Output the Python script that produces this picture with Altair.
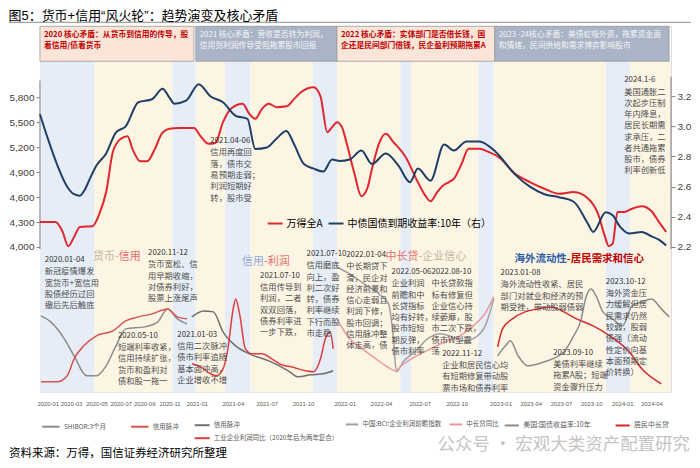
import altair as alt
import pandas as pd

FONT = "Noto Sans CJK SC"
TITLE_FONT = "Liberation Sans, Noto Sans CJK SC"
W, H = 632, 366

TITLE = "图5：货币+信用“风火轮”：趋势演变及核心矛盾"
SOURCE = "资料来源：万得，国信证券经济研究所整理"
WATERMARK = "公众号 · 宏观大类资产配置研究"

# x = months since 2020-01
X_DOMAIN = [-0.66, 52.63]
FRAME_DOMAIN = [-7, 359]          # relative level used by the lower panel / layout
LEFT_DOMAIN = [2260, 6652]        # 万得全A
RIGHT_DOMAIN = [1.2397, 3.6636]   # 10Y yield

x_tick_pos = [0, 1.97, 4.11, 6.17, 8.14, 10.28, 12.58, 15.63, 18.5, 21.55,
              25.08, 28.13, 31.41, 34.54, 38.24, 40.79, 43.34, 45.89, 48.52, 50.99]
x_tick_lab = ["2020-01", "2020-03", "2020-05", "2020-07", "2020-09", "2020-11",
              "2021-01", "2021-04", "2021-07", "2021-10", "2022-01", "2022-04",
              "2022-07", "2022-10", "2023-01", "2023-04", "2023-07", "2023-10",
              "2024-01", "2024-04"]
left_ticks = [4000, 4300, 4600, 4900, 5200, 5500, 5800]
right_ticks = [2.2, 2.4, 2.6, 2.8, 3.0, 3.2]

# ---------------- top panel series ----------------
a_month = [-0.66, 0.66, 1.23, 1.73, 2.22, 2.71, 3.78, 4.36, 4.93, 5.51, 6.17, 6.74, 7.15, 7.81,
           8.39, 9.05, 9.62, 10.28, 11.10, 12.34, 12.91, 13.57, 14.14, 14.80, 15.46, 16.45,
           17.02, 17.52, 18.09, 18.67, 19.33, 20.15, 20.81, 21.38, 22.45, 23.03, 23.60, 24.01,
           24.42, 24.84, 25.25, 25.90, 26.48, 26.97, 27.38, 27.96, 28.54, 29.19, 30.18, 31.25,
           31.91, 32.32, 32.89, 33.31, 33.88, 34.29, 34.95, 35.53, 36.43, 37.25, 38.08, 39.47,
           40.71, 41.94, 43.17, 44.41, 45.64, 46.46, 47.04, 47.37, 47.70, 48.11, 48.68, 49.34,
           50.16, 50.99, 51.56, 52.22]
a_value = [4300, 4300, 4190, 4010, 4120, 4240, 4250, 4400, 4660, 5150, 5300, 5330, 5180, 5030,
           5030, 5180, 5360, 5420, 5430, 5430, 5330, 5240, 5250, 5500, 5660, 5720, 5600, 5540,
           5660, 5720, 5680, 5690, 5780, 5860, 5920, 5810, 5380, 5440, 5500, 5440, 5240, 4880,
           4610, 4700, 4940, 5240, 5360, 5260, 5090, 4780, 4610, 4550, 4660, 4730, 4780, 4820,
           5000, 5180, 5180, 5140, 5080, 4880, 4780, 4700, 4640, 4660, 4580, 4400, 4130, 4010,
           4040, 4420, 4420, 4460, 4490, 4430, 4310, 4180]

y10_month = [-0.66, 0, 0.82, 1.64, 2.22, 2.71, 3.13, 3.54, 4.11, 4.93, 5.76, 6.58, 7.65, 8.80,
             9.70, 10.28, 10.69, 11.68, 12.75, 13.73, 14.80, 15.87, 16.86, 17.52, 18.50, 19.33,
             20.15, 20.81, 21.63, 22.45, 23.27, 24.01, 24.67, 25.49, 26.48, 27.38, 28.54, 29.61,
             30.59, 31.25, 32.32, 33.47, 34.29, 35.36, 36.43, 37.83, 39.47, 40.71, 41.94, 43.17,
             44.41, 45.64, 46.05, 47.12, 47.70, 48.27, 49.10, 50.16, 50.99, 51.56, 52.22]
y10_value = [3.08, 2.92, 2.74, 2.60, 2.55, 2.54, 2.58, 2.65, 2.74, 2.82, 2.96, 3.00, 3.16, 3.18,
             3.25, 3.19, 3.15, 3.17, 3.28, 3.20, 3.16, 3.07, 3.05, 2.85, 2.86, 2.92, 2.97, 2.88,
             2.75, 2.72, 2.70, 2.78, 2.77, 2.78, 2.84, 2.75, 2.82, 2.74, 2.63, 2.72, 2.64, 2.88,
             2.84, 2.90, 2.90, 2.83, 2.68, 2.60, 2.55, 2.53, 2.50, 2.35, 2.30, 2.43, 2.41, 2.34,
             2.29, 2.30, 2.27, 2.25, 2.21]

# ---------------- lower panel series (relative levels) ----------------
s1_grey_m = [-0.58, 0.25, 1.40, 2.22, 3.29, 4.11, 4.93, 5.76, 6.58, 8.22, 9.29, 10.12, 10.94, 11.76]
s1_grey_v = [69, 63, 46, 29, 9, 9, 19, 39, 56, 58, 63, 76, 66, 61]
s1_red_m = [-0.58, 0.82, 1.64, 2.22, 3.04, 4.11, 5.51, 6.58, 7.65, 8.80, 10.12, 10.94, 11.76]
s1_red_v = [3, 3, 9, 26, 39, 49, 54, 64, 68, 71, 76, 68, 66]

s2_grey_m = [12.17, 13.16, 13.98, 14.80, 15.87, 17.02, 18.67, 20.31, 21.13, 22.20, 23.27, 24.10]
s2_grey_v = [68, 74, 73, 53, 39, 31, 24, 14, 8, 10, 11, 14]
s2_red_m = [12.17, 12.91, 13.73, 14.23, 14.80, 15.21, 15.63, 15.87, 16.20, 16.69, 17.27, 18.09,
            18.91, 19.74, 20.56, 21.79, 22.45, 23.03, 23.44, 23.85, 24.10]
s2_red_v = [21, 18, 11, 9, 16, 36, 74, 86, 71, 36, 31, 31, 26, 20, 18, 14, 13, 26, 46, 53, 36]

s3_grey_m = [24.42, 25.49, 26.73, 27.96, 28.78, 29.19, 29.44, 30.02, 31.00, 32.07, 33.14, 34.13,
             35.12, 36.18, 37.01, 37.66]
s3_grey_v = [118, 111, 101, 91, 81, 46, 13, 23, 33, 46, 51, 48, 44, 48, 61, 86]
s3_red_m = [24.42, 25.49, 26.56, 27.71, 28.54, 29.36, 29.85, 31.00, 32.32, 33.72, 34.79, 35.94,
            37.01, 37.66]
s3_red_v = [66, 46, 36, 26, 19, 14, 19, 28, 36, 44, 49, 59, 73, 88]

s4_grey_m = [37.99, 38.65, 39.06, 39.72, 40.54, 41.94, 43.59, 44.41, 44.98, 45.48, 45.89, 46.30,
             46.88, 47.70, 48.52, 49.34, 50.16, 50.99, 51.81, 52.47]
s4_grey_v = [29, 39, 44, 29, 19, 23, 33, 49, 63, 89, 96, 89, 73, 66, 59, 79, 83, 86, 76, 68]
s4_red_m = [37.99, 38.40, 39.23, 40.30, 41.37, 42.52, 43.59, 44.65, 46.05, 47.45, 49.10, 50.16, 51.81]
s4_red_v = [38, 56, 66, 73, 76, 78, 73, 66, 59, 49, 33, 16, 1]

# ---------------- background periods ----------------
band_start = [-0.66, 3.95, 10.53, 12.5, 14.97, 17.11, 22.37, 24.42, 29.77, 30.67, 36.35, 37.66, 47.12, 49.18]
band_end = [3.95, 10.53, 12.5, 14.97, 17.11, 22.37, 24.42, 29.77, 30.67, 36.35, 37.66, 47.12, 49.18, 52.63]
band_kind = ["blue", "yellow"] * 7

# ---------------- header boxes ----------------
hdr_start = [-0.66, 12.5, 24.42, 37.75]
hdr_end = [12.34, 24.42, 37.75, 52.47]
hdr_kind = ["red", "grey", "red", "grey"]
hdr_text = [
    "2020 核心矛盾：从货币到信用的传导，股\n着信用/债着货币",
    "2021 核心矛盾：营收是否转为利润，\n信用到利润传导受阻拖累股市回报",
    "2022 核心矛盾：实体部门是否借长钱，国\n企还是民间部门借钱，民企盈利预期拖累A",
    "2023 -24核心矛盾：美债虹吸外资，拖累资金面\n和情绪，民间供给和需求博弈影响股市",
]

# ---------------- annotations ----------------
ann_month = [-0.25, 8.47, 5.92, 10.94, 13.73, 17.93, 21.85, 25.2, 29.03, 32.40, 33.31, 38.24, 42.68, 47.12, 48.68]
ann_top = [129, 136, 53, 54, 248, 113, 135, 134, 117, 117, 35, 116, 36, 107, 309]
ann_date = ["2020.01-04", "2020.11-12", "2020.05-10", "2021.01-03", "2021.04-06", "2021.07-10",
            "2021.07-10", "2022.01-04", "2022.05-06", "2022.08-10", "2022.11-12", "2023.01-08",
            "2023.09-10", "2023.10-12", "2024.1-6"]
ann_body = [
    "新冠疫情爆发\n宽货币+宽信用\n股债经历过回\n撤后先后触底",
    "货币宽松、信\n用早期收缩，\n对债券利好，\n股票上涨尾声",
    "短端利率收紧，\n信用持续扩张，\n货币和盈利对\n债和股一拖一",
    "信用二次脉冲\n债市利率追随\n基本面冲高，\n企业增收不增",
    "信用再度回\n落，债市交\n易预期走弱；\n利润短期好\n转，股市受",
    "信用传导到\n利润，二者\n双双回落，\n债券利率进\n一步下跌，",
    "信用磨底\n向上，盈\n利二次好\n转，债券\n利率继续\n下行而股\n市走稳",
    "中长期贷下\n滑，民企对\n经济前景和\n信心走弱且\n利润下修，\n股市回调；\n信用脉冲整\n体走高，债",
    "企业利润\n前瞻和中\n长贷指标\n均有好转，\n股市短短\n期反弹，\n债市利率",
    "中长贷款指\n标有修复但\n企业信心持\n续萎靡，股\n市二次下跌，\n债市W型震\n荡",
    "企业和居民信心均\n有短期修复带动股\n票市场和债券利率",
    "海外流动性收紧、居民\n部门对就业和经济的预\n期受挫，带动股弱债弱",
    "美债利率继续\n拖累A股；短端\n资金骤升压力",
    "海外资金压\n力缓解但居\n民需求仍然\n较弱，股弱\n债强（流动\n性定价向基\n本面预期定\n价转换）",
    "美国通胀二\n次起步压制\n年内降息，\n居民长期需\n求承压，二\n者共通拖累\n股市，债券\n利率创新低",
]

# phase titles: two coloured parts meeting at a joint
ph_joint = [6.0, 18.26, 31.3, 43.83]
ph_level = [128, 123, 128, 126]
ph_left = ["货币-", "信用", "中长贷", "海外流动性"]
ph_right = ["信用", "-利润", "-企业信心", "-居民需求和信心"]
ph_lrole = ["beige", "lightblue", "pink", "blue"]
ph_rrole = ["pink", "pink", "beige", "darkred"]
ph_bold = [0, 0, 0, 1]

# ================= chart construction =================
xscale = alt.Scale(domain=X_DOMAIN, nice=False, zero=False)
frame = alt.Scale(domain=FRAME_DOMAIN, nice=False, zero=False)
left_scale = alt.Scale(domain=LEFT_DOMAIN, nice=False, zero=False)
right_scale = alt.Scale(domain=RIGHT_DOMAIN, nice=False, zero=False)

lab_expr = ("[" + ",".join(f"'{s}'" for s in x_tick_lab) + "][indexof(["
            + ",".join(str(v) for v in x_tick_pos) + "], datum.value)]")
xaxis = alt.Axis(values=x_tick_pos, labelExpr=lab_expr, title=None, domain=False, ticks=False,
                 grid=False, labelFontSize=5.9, labelColor="#595959", labelPadding=9,
                 labelOverlap=False, labelFont="Liberation Sans")


def X(f):
    return alt.X(f, type="quantitative", scale=xscale, axis=xaxis)


def FY(f):
    return alt.Y(f, type="quantitative", scale=frame, axis=None)


def FYD(v):
    return alt.YDatum(v, type="quantitative", scale=frame, axis=None)


role_scale = alt.Scale(domain=["beige", "lightblue", "pink", "blue", "darkred"],
                       range=["#c4b3a0", "#8eaadb", "#e46c6c", "#2e5fa8", "#c00000"])


def leg(x, y, direction="horizontal", size=225, fs=6.5, color="#595959", colpad=18):
    return alt.Legend(orient="none", legendX=x, legendY=y, direction=direction, title=None,
                      symbolType="stroke", symbolStrokeWidth=2, symbolSize=size,
                      labelFontSize=fs, labelColor=color, labelFont=FONT,
                      columnPadding=colpad, rowPadding=0, labelLimit=600, labelOffset=3)


# backgrounds
bands = pd.DataFrame({"s": band_start, "e": band_end, "k": band_kind})
band_layer = alt.Chart(bands).mark_rect().encode(
    x=X("s"), x2="e", y=FYD(-7), y2=alt.Y2Datum(324),
    color=alt.Color("k:N", scale=alt.Scale(domain=["blue", "yellow"], range=["#e6edf7", "#fdf5e4"]), legend=None),
)

hdr = pd.DataFrame({"s": hdr_start, "e": hdr_end, "k": hdr_kind, "t": hdr_text})
hdr_rect = alt.Chart(hdr).mark_rect(stroke="#9a9a9a", strokeWidth=0.8).encode(
    x=X("s"), x2="e", y=FYD(324), y2=alt.Y2Datum(359),
    color=alt.Color("k:N", scale=alt.Scale(domain=["red", "grey"], range=["#fbe4d8", "#a9b4c7"]), legend=None),
)
hdr_txt_red = alt.Chart(hdr).transform_filter("datum.k == 'red'").mark_text(
    align="left", baseline="top", dx=4, fontSize=7.8, fontWeight="bold", lineBreak="\n",
    lineHeight=11, color="#c00000", font=FONT,
).encode(x=X("s"), y=FYD(354), text="t:N")
hdr_txt_grey = alt.Chart(hdr).transform_filter("datum.k == 'grey'").mark_text(
    align="left", baseline="top", dx=4, fontSize=7.8, lineBreak="\n",
    lineHeight=11, color="#f4f4f4", font=FONT,
).encode(x=X("s"), y=FYD(354), text="t:N")


def seg(gm, gv, rm, rv, names, colors, legend, width=1.5):
    df = pd.concat([
        pd.DataFrame({"m": gm, "v": gv, "s": names[0]}),
        pd.DataFrame({"m": rm, "v": rv, "s": names[1]}),
    ])
    return alt.Chart(df).mark_line(interpolate="monotone", strokeWidth=width).encode(
        x=X("m"), y=FY("v"),
        color=alt.Color("s:N", scale=alt.Scale(domain=names, range=colors), legend=legend, sort=names),
    )


seg1 = seg(s1_grey_m, s1_grey_v, s1_red_m, s1_red_v, ["SHIBOR:3个月", "信用脉冲"],
           ["#8c8c8c", "#d9534f"], leg(1, 391, size=300, colpad=20))
seg2 = seg(s2_grey_m, s2_grey_v, s2_red_m, s2_red_v, ["信用脉冲", "工业企业利润同比（2020年后为两年复合）"],
           ["#6f6f6f", "#e03c3c"], leg(154, 391, direction="vertical", size=225))
seg3 = seg(s3_grey_m, s3_grey_v, s3_red_m, s3_red_v, ["中国:BCI:企业利润前瞻指数", "中长贷同比"],
           ["#a0a0a0", "#e89a9a"], leg(305, 391, size=160, colpad=4))
seg4 = seg(s4_grey_m, s4_grey_v, s4_red_m, s4_red_v, ["美国:国债收益率:10年", "居民中长贷"],
           ["#8c8c8c", "#d42a2a"], leg(464, 391, size=200, fs=7, colpad=20))

# top panel: 万得全A (left) and 10Y yield (right)
left_axis = alt.Axis(orient="left", values=left_ticks, format=",.0f", title=None, grid=False,
                     domain=False, ticks=True, tickSize=4, tickColor="#7f7f7f", labelFontSize=10,
                     labelColor="#404040", labelPadding=2, labelFont="Liberation Sans")
right_axis = alt.Axis(orient="right", values=right_ticks, format=".1f", title=None, grid=False,
                      domain=False, ticks=True, tickSize=4, tickColor="#7f7f7f", labelFontSize=10,
                      labelColor="#404040", labelPadding=2, labelFont="Liberation Sans")

a_df = pd.DataFrame({"m": a_month, "v": a_value, "s": "万得全A"})
a_line = alt.Chart(a_df).mark_line(interpolate="monotone", strokeWidth=2).encode(
    x=X("m"), y=alt.Y("v:Q", scale=left_scale, axis=left_axis),
    color=alt.Color("s:N", scale=alt.Scale(domain=["万得全A"], range=["#e0262e"]),
                    legend=leg(227, 189, size=225, fs=10, color="#000000")),
)
a_rule = alt.Chart(pd.DataFrame({"v": [3975], "v2": [6000]})).mark_rule(color="#7f7f7f", strokeWidth=1).encode(
    x=alt.value(0), y=alt.Y("v:Q", scale=left_scale, axis=left_axis), y2="v2:Q")
a_layer = alt.layer(a_rule, a_line)

y_df = pd.DataFrame({"m": y10_month, "v": y10_value, "s": "中债国债到期收益率:10年（右）"})
y_line = alt.Chart(y_df).mark_line(interpolate="monotone", strokeWidth=2).encode(
    x=X("m"), y=alt.Y("v:Q", scale=right_scale, axis=right_axis),
    color=alt.Color("s:N", scale=alt.Scale(domain=["中债国债到期收益率:10年（右）"], range=["#1f3f66"]),
                    legend=leg(288, 189, size=225, fs=10, color="#000000")),
)
y_rule = alt.Chart(pd.DataFrame({"v": [2.185], "v2": [3.33]})).mark_rule(color="#7f7f7f", strokeWidth=1).encode(
    x=alt.value(W), y=alt.Y("v:Q", scale=right_scale, axis=right_axis), y2="v2:Q")
y_layer = alt.layer(y_rule, y_line)

# annotations
ann = pd.DataFrame({"m": ann_month, "v": ann_top, "d": ann_date, "b": ann_body})
ann_date_layer = alt.Chart(ann).mark_text(
    align="left", baseline="top", fontSize=7.9, color="#333333", font=FONT,
).encode(x=X("m"), y=FY("v"), text="d:N")
ann_body_layer = alt.Chart(ann).mark_text(
    align="left", baseline="top", fontSize=8.3, color="#4d4d4d", font=FONT, dy=11.3,
    lineBreak="\n", lineHeight=11.3,
).encode(x=X("m"), y=FY("v"), text="b:N")

ph = pd.DataFrame({"m": ph_joint, "v": ph_level, "l": ph_left, "r": ph_right,
                   "lr": ph_lrole, "rr": ph_rrole, "bold": ph_bold})
ph_l = alt.Chart(ph).transform_filter("datum.bold == 0").mark_text(
    align="right", baseline="middle", fontSize=11, font=FONT).encode(
    x=X("m"), y=FY("v"), text="l:N", color=alt.Color("lr:N", scale=role_scale, legend=None))
ph_r = alt.Chart(ph).transform_filter("datum.bold == 0").mark_text(
    align="left", baseline="middle", fontSize=11, font=FONT).encode(
    x=X("m"), y=FY("v"), text="r:N", color=alt.Color("rr:N", scale=role_scale, legend=None))
ph_lb = alt.Chart(ph).transform_filter("datum.bold == 1").mark_text(
    align="right", baseline="middle", fontSize=10.5, fontWeight="bold", font=FONT).encode(
    x=X("m"), y=FY("v"), text="l:N", color=alt.Color("lr:N", scale=role_scale, legend=None))
ph_rb = alt.Chart(ph).transform_filter("datum.bold == 1").mark_text(
    align="left", baseline="middle", fontSize=10.5, fontWeight="bold", font=FONT).encode(
    x=X("m"), y=FY("v"), text="r:N", color=alt.Color("rr:N", scale=role_scale, legend=None))

# decorations: rule under the title, source line, watermark
title_rule = alt.Chart(pd.DataFrame({"a": [0]})).mark_rule(color="#8c8c8c", strokeWidth=1).encode(
    x=alt.value(-31), x2=alt.value(W + 20), y=alt.value(-4))
source_txt = alt.Chart(pd.DataFrame({"t": [SOURCE]})).mark_text(
    align="left", baseline="middle", fontSize=11.5, color="#000000", font=FONT).encode(
    x=alt.value(-31), y=alt.value(H + 62), text="t:N")
wm_txt = alt.Chart(pd.DataFrame({"t": [WATERMARK]})).mark_text(
    align="right", baseline="middle", fontSize=17.5, color="#c4c4c4", font=FONT).encode(
    x=alt.value(W + 19), y=alt.value(H + 53), text="t:N")

chart = alt.layer(
    band_layer, hdr_rect, hdr_txt_red, hdr_txt_grey,
    seg1, seg2, seg3, seg4,
    a_layer, y_layer,
    ann_date_layer, ann_body_layer, ph_l, ph_r, ph_lb, ph_rb,
    title_rule, source_txt, wm_txt,
).resolve_scale(y="independent", color="independent").properties(
    width=W, height=H,
    padding={"left": 0, "right": 0, "top": 1, "bottom": 0},
    title=alt.TitleParams(TITLE, anchor="start", frame="bounds", fontSize=13, fontWeight="normal",
                          font=TITLE_FONT, color="#000000", offset=-1),
).configure_view(stroke=None).configure(font=FONT)

chart.save("out.html", embed_options={"renderer": "svg", "actions": False})
